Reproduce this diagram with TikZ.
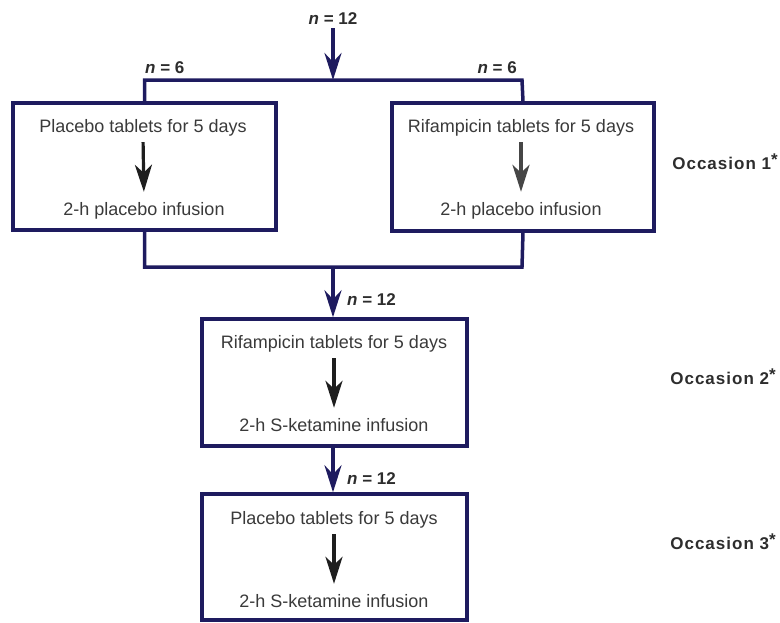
\documentclass[tikz,border=0pt]{standalone}
\usepackage{fontspec}
\setmainfont{Liberation Sans}
\newfontfamily\spacedbold[LetterSpace=6]{Liberation Sans}
\usetikzlibrary{arrows.meta}
\definecolor{navy}{RGB}{30,27,95}
\definecolor{txtgray}{RGB}{58,58,58}
\definecolor{lblgray}{RGB}{45,45,45}
\definecolor{arrdark}{RGB}{30,30,30}
\definecolor{arrmid}{RGB}{70,70,70}
\begin{document}
\begin{tikzpicture}[x=1pt,y=-1pt,
  boxnode/.style={draw=navy,line width=3.5pt,inner sep=0pt,fill=white},
  boxtext/.style={font=\fontsize{18}{18}\selectfont,text=txtgray,inner sep=0pt,
    text height=13pt,text depth=4pt,anchor=base},
  nlabel/.style={font=\fontsize{17}{17}\selectfont\bfseries,text=lblgray,inner sep=0pt,
    text height=12pt,text depth=4pt},
  occlabel/.style={font=\fontsize{17}{17}\spacedbold\bfseries,text=lblgray,inner sep=0pt,anchor=base east},
  navyline/.style={draw=navy,line width=3.5pt},
  navyarrow/.style={draw=navy,line width=3.5pt,-{Stealth[length=27pt,width=17pt,inset=9pt]}},
  innerarrow/.style={line width=3.2pt,-{Stealth[length=27pt,width=17pt,inset=8pt]},
    shorten <=6pt,shorten >=10pt}
]
\useasboundingbox (0,0) rectangle (780,622);

% boxes
\node[boxnode,minimum width=263pt,minimum height=127pt] (bL) at (144.5,166.5) {};
\node[boxnode,minimum width=262pt,minimum height=128pt] (bR) at (523,167) {};
\node[boxnode,minimum width=265pt,minimum height=127pt] (b2) at (334.5,382.5) {};
\node[boxnode,minimum width=265pt,minimum height=126pt] (b3) at (334.5,557) {};

% top split
\node[nlabel,anchor=base] (n12a) at (333,24) {\textit{n} = 12};
\coordinate (jT) at (333,80);
\coordinate (jTL) at (144.5,80);
\coordinate (jTR) at (522,80);
\draw[navyline] (bL.north) -- (jTL) -- (jTR) -- (bR.north);
\draw[navyarrow] (n12a.south) -- (jT);
\node[nlabel,anchor=base west] (n6L) at (145,73) {\textit{n} = 6};
\node[nlabel,anchor=base east] (n6R) at (517,73) {\textit{n} = 6};

% left box texts
\node[boxtext] (tL1) at (143,132) {Placebo tablets for 5 days};
\node[boxtext] (tL2) at (144,215) {2-h placebo infusion};
\draw[innerarrow,arrdark] (tL1.south) -- (tL2.north);

% right box texts
\node[boxtext] (tR1) at (521,132) {Rifampicin tablets for 5 days};
\node[boxtext] (tR2) at (521,215) {2-h placebo infusion};
\draw[innerarrow,arrmid] (tR1.south) -- (tR2.north);

% merge
\coordinate (jBL) at (144.5,267);
\coordinate (jBR) at (522,267);
\coordinate (jB) at (333,267);
\draw[navyline] (bL.south) -- (jBL) -- (jBR) -- (bR.south);
\draw[navyarrow] (jB) -- (jB |- b2.north);
\node[nlabel,anchor=base west] (n12b) at (347,305) {\textit{n} = 12};

% box 2 texts
\node[boxtext] (t21) at (334,348) {Rifampicin tablets for 5 days};
\node[boxtext] (t22) at (334,431) {2-h S-ketamine infusion};
\draw[innerarrow,arrdark] (t21.south) -- (t22.north);

% box 2 -> box 3
\draw[navyarrow] (b2.south -| jB) -- (jB |- b3.north);
\node[nlabel,anchor=base west] (n12c) at (347,484) {\textit{n} = 12};

% box 3 texts
\node[boxtext] (t31) at (334,524) {Placebo tablets for 5 days};
\node[boxtext] (t32) at (334,607) {2-h S-ketamine infusion};
\draw[innerarrow,arrdark] (t31.south) -- (t32.north);

% occasion labels
\node[occlabel] (o1) at (778,169) {Occasion 1\raisebox{4pt}{*}};
\node[occlabel] (o2) at (776,384) {Occasion 2\raisebox{4pt}{*}};
\node[occlabel] (o3) at (776,549) {Occasion 3\raisebox{4pt}{*}};
\end{tikzpicture}
\end{document}
